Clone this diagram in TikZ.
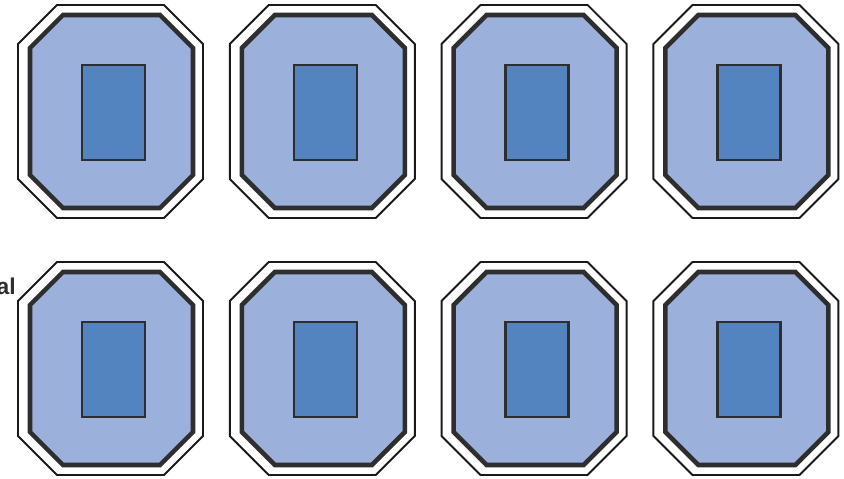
\documentclass[tikz,border=0pt]{standalone}
\usepackage{fontspec}
\newfontfamily\labelfont{Liberation Sans}
\usetikzlibrary{calc, positioning}

\definecolor{edge}{HTML}{2E2E2E}
\definecolor{padblue}{HTML}{9BB1DB}
\definecolor{coreblue}{HTML}{5484C0}

\tikzset{
  rim/.style={draw=black!90, line width=1.1pt, fill=white, line join=miter},
  pad/.style={draw=edge, line width=2.6pt, fill=padblue, line join=miter},
  core/.style={draw=edge, line width=1.3pt, fill=coreblue},
  lbl/.style={font=\labelfont\bfseries\fontsize{13}{15}\selectfont, text=edge, inner sep=0pt}
}

% chamfered box: left, top, right, bottom, cut
\newcommand{\chamfer}[5]{%
  (#1+#5,#2) -- (#3-#5,#2) -- (#3,#2+#5) -- (#3,#4-#5) --
  (#3-#5,#4) -- (#1+#5,#4) -- (#1,#4-#5) -- (#1,#2+#5) -- cycle}

\begin{document}
\begin{tikzpicture}[x=0.02cm, y=-0.02cm]
\useasboundingbox (0,0) rectangle (844,479);

\def\colstep{211.8}
\def\rowstep{257}

\foreach \row in {0,1} {
  \foreach \col in {0,...,3} {
    \pgfmathsetmacro{\ox}{18+\colstep*\col}
    \pgfmathsetmacro{\oy}{5+\rowstep*\row}
    \begin{scope}[shift={(\ox,\oy)}]
      \draw[rim] \chamfer{0}{0}{185}{213}{39};
      \draw[pad] \chamfer{12}{10}{175}{203}{33};
      \draw[core] (64,60) rectangle (127,155);
    \end{scope}
  }
}

\node[lbl, anchor=base east] (side) at (16,295) {al};
\end{tikzpicture}
\end{document}
